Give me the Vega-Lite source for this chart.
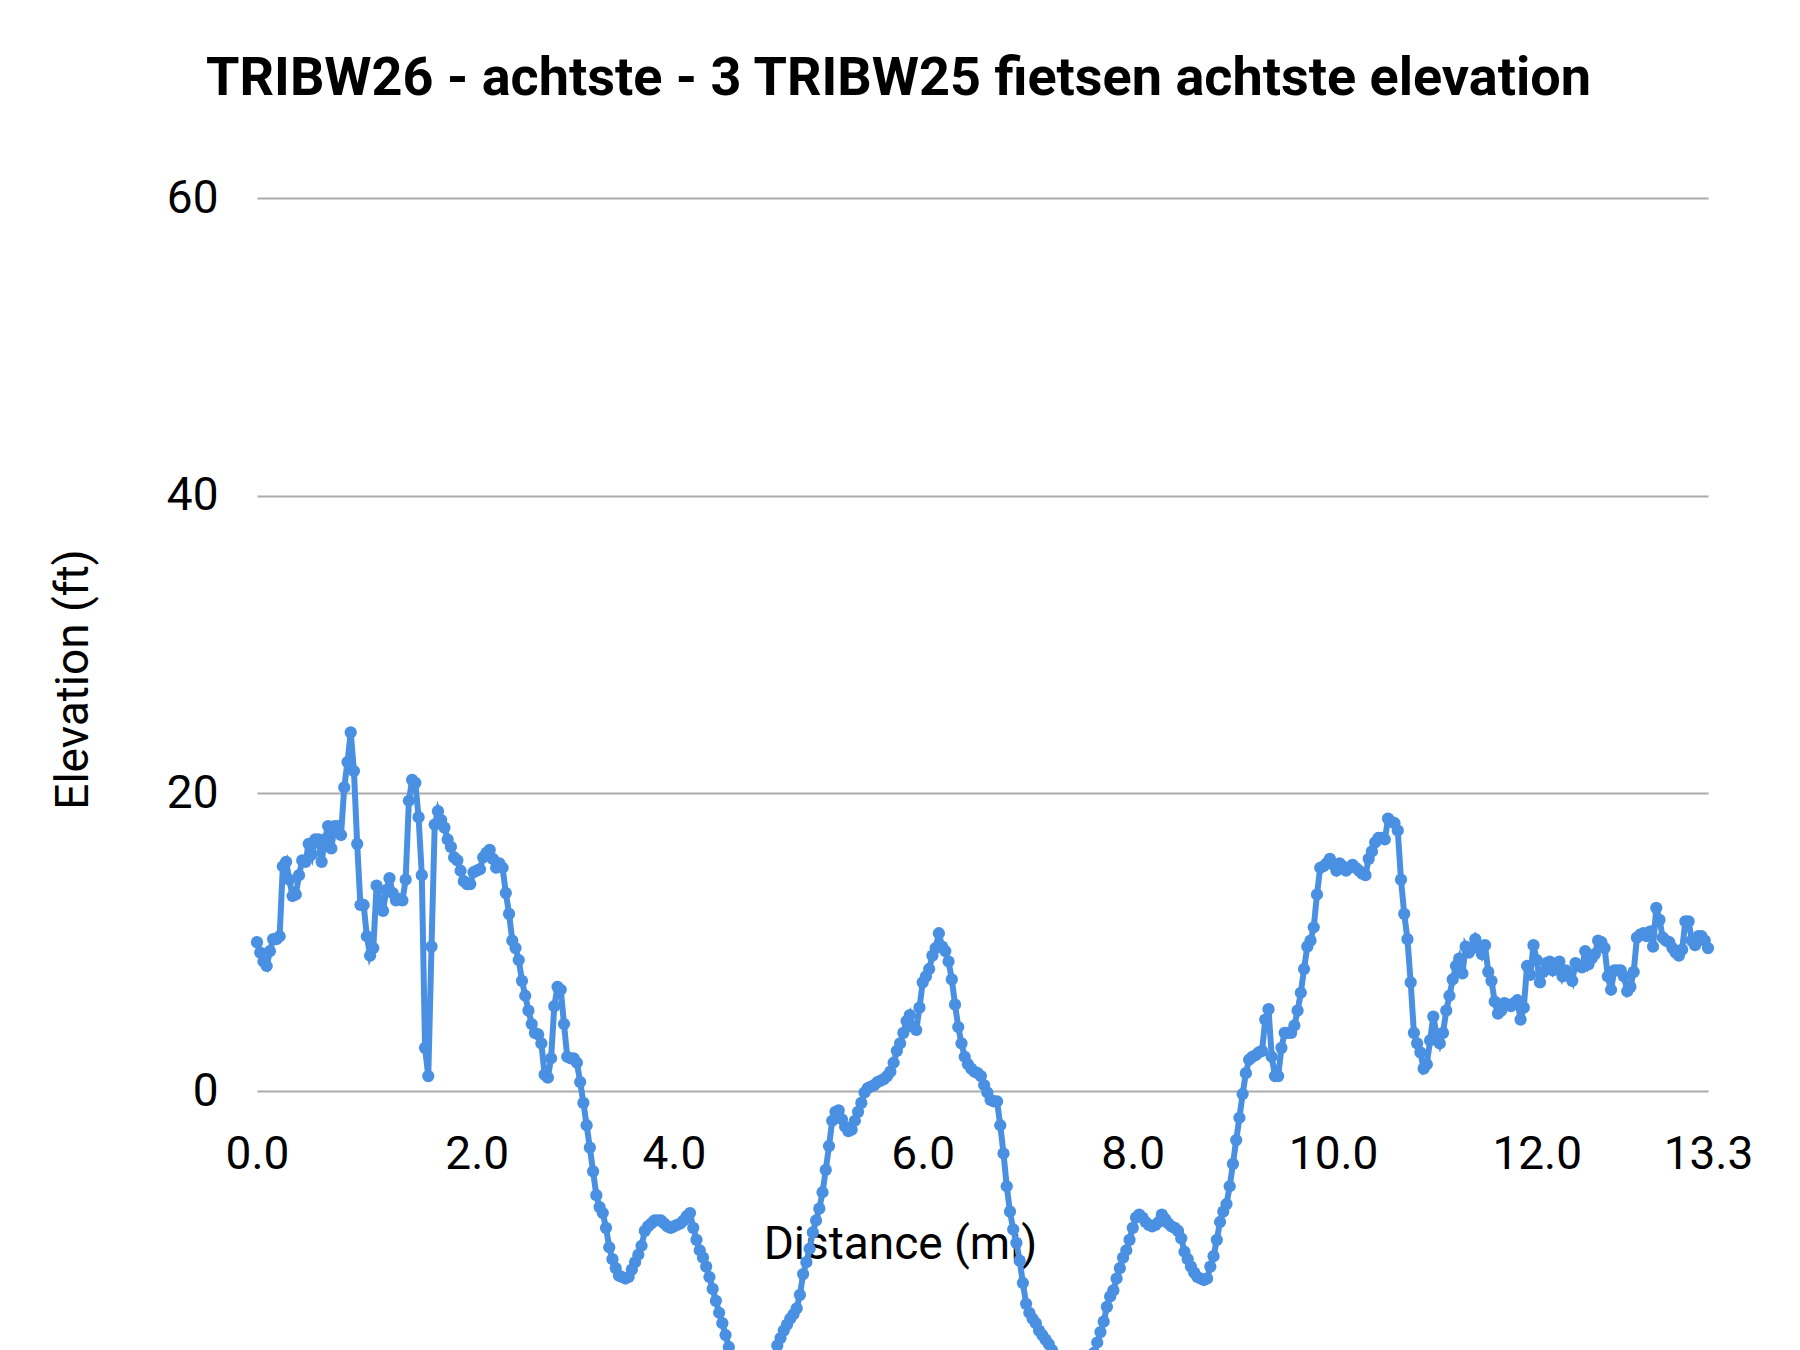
{
  "$schema": "https://vega.github.io/schema/vega-lite/v6.json",
  "autosize": {"type": "none"},
  "padding": {"left": 257, "top": 198, "right": 92, "bottom": 259},
  "width": 1451,
  "height": 893,
  "background": "white",
  "title": {
    "text": "TRIBW26 - achtste - 3 TRIBW25 fietsen achtste elevation",
    "font": "Roboto",
    "fontSize": 54,
    "fontWeight": "bold",
    "color": "#000000",
    "anchor": "middle",
    "frame": "group",
    "baseline": "alphabetic",
    "dx": -84,
    "offset": 26
  },
  "data": {
    "values": [
      {"i":0,"ft":10.0},{"i":1,"ft":9.3},{"i":2,"ft":8.7},{"i":3,"ft":8.4},{"i":4,"ft":9.4},
      {"i":5,"ft":10.2},{"i":6,"ft":10.2},{"i":7,"ft":10.4},{"i":8,"ft":15.1},{"i":9,"ft":15.4},
      {"i":10,"ft":14.2},{"i":11,"ft":13.1},{"i":12,"ft":13.2},{"i":13,"ft":14.5},{"i":14,"ft":15.5},
      {"i":15,"ft":15.4},{"i":16,"ft":16.6},{"i":17,"ft":15.9},{"i":18,"ft":16.9},{"i":19,"ft":16.9},
      {"i":20,"ft":15.4},{"i":21,"ft":16.9},{"i":22,"ft":17.8},{"i":23,"ft":16.3},{"i":24,"ft":17.8},
      {"i":25,"ft":17.8},{"i":26,"ft":17.2},{"i":27,"ft":20.4},{"i":28,"ft":22.1},{"i":29,"ft":24.1},
      {"i":30,"ft":21.5},{"i":31,"ft":16.6},{"i":32,"ft":12.5},{"i":33,"ft":12.5},{"i":34,"ft":10.4},
      {"i":35,"ft":9.1},{"i":36,"ft":9.6},{"i":37,"ft":13.8},{"i":38,"ft":12.8},{"i":39,"ft":12.1},
      {"i":40,"ft":13.5},{"i":41,"ft":14.3},{"i":42,"ft":13.3},{"i":43,"ft":12.8},{"i":44,"ft":12.9},
      {"i":45,"ft":12.8},{"i":46,"ft":14.2},{"i":47,"ft":19.5},{"i":48,"ft":20.9},{"i":49,"ft":20.7},
      {"i":50,"ft":18.4},{"i":51,"ft":14.5},{"i":52,"ft":2.9},{"i":53,"ft":1.0},{"i":54,"ft":9.7},
      {"i":55,"ft":17.9},{"i":56,"ft":18.8},{"i":57,"ft":18.2},{"i":58,"ft":17.7},{"i":59,"ft":16.9},
      {"i":60,"ft":16.4},{"i":61,"ft":15.7},{"i":62,"ft":15.5},{"i":63,"ft":14.8},{"i":64,"ft":14.1},
      {"i":65,"ft":13.9},{"i":66,"ft":13.9},{"i":67,"ft":14.7},{"i":68,"ft":14.8},{"i":69,"ft":14.9},
      {"i":70,"ft":15.7},{"i":71,"ft":16.0},{"i":72,"ft":16.2},{"i":73,"ft":15.6},{"i":74,"ft":15.0},
      {"i":75,"ft":15.3},{"i":76,"ft":15.0},{"i":77,"ft":13.3},{"i":78,"ft":11.9},{"i":79,"ft":10.1},
      {"i":80,"ft":9.6},{"i":81,"ft":8.8},{"i":82,"ft":7.4},{"i":83,"ft":6.4},{"i":84,"ft":5.4},
      {"i":85,"ft":4.5},{"i":86,"ft":3.9},{"i":87,"ft":3.8},{"i":88,"ft":3.2},{"i":89,"ft":1.1},
      {"i":90,"ft":0.9},{"i":91,"ft":2.2},{"i":92,"ft":5.7},{"i":93,"ft":7.0},{"i":94,"ft":6.8},
      {"i":95,"ft":4.5},{"i":96,"ft":2.3},{"i":97,"ft":2.2},{"i":98,"ft":2.2},{"i":99,"ft":1.9},
      {"i":100,"ft":0.6},{"i":101,"ft":-0.8},{"i":102,"ft":-2.3},{"i":103,"ft":-3.8},{"i":104,"ft":-5.4},
      {"i":105,"ft":-7.0},{"i":106,"ft":-7.8},{"i":107,"ft":-8.2},{"i":108,"ft":-9.2},{"i":109,"ft":-10.5},
      {"i":110,"ft":-11.3},{"i":111,"ft":-11.9},{"i":112,"ft":-12.4},{"i":113,"ft":-12.5},{"i":114,"ft":-12.6},
      {"i":115,"ft":-12.5},{"i":116,"ft":-12.0},{"i":117,"ft":-11.5},{"i":118,"ft":-11.0},{"i":119,"ft":-10.4},
      {"i":120,"ft":-9.4},{"i":121,"ft":-9.1},{"i":122,"ft":-8.9},{"i":123,"ft":-8.7},{"i":124,"ft":-8.7},
      {"i":125,"ft":-8.7},{"i":126,"ft":-8.9},{"i":127,"ft":-9.1},{"i":128,"ft":-9.2},{"i":129,"ft":-9.1},
      {"i":130,"ft":-9.0},{"i":131,"ft":-8.9},{"i":132,"ft":-8.7},{"i":133,"ft":-8.4},{"i":134,"ft":-8.2},
      {"i":135,"ft":-9.2},{"i":136,"ft":-10.0},{"i":137,"ft":-10.7},{"i":138,"ft":-11.2},{"i":139,"ft":-11.8},
      {"i":140,"ft":-12.5},{"i":141,"ft":-13.3},{"i":142,"ft":-14.1},{"i":143,"ft":-14.9},{"i":144,"ft":-15.6},
      {"i":145,"ft":-16.4},{"i":146,"ft":-17.2},{"i":147,"ft":-18.0},{"i":148,"ft":-18.7},{"i":149,"ft":-19.3},
      {"i":150,"ft":-19.9},{"i":151,"ft":-20.4},{"i":152,"ft":-20.8},{"i":153,"ft":-21.1},{"i":154,"ft":-21.2},
      {"i":155,"ft":-21.1},{"i":156,"ft":-20.8},{"i":157,"ft":-20.3},{"i":158,"ft":-19.6},{"i":159,"ft":-18.9},
      {"i":160,"ft":-18.0},{"i":161,"ft":-17.1},{"i":162,"ft":-16.6},{"i":163,"ft":-16.1},{"i":164,"ft":-15.7},
      {"i":165,"ft":-15.3},{"i":166,"ft":-15.0},{"i":167,"ft":-14.6},{"i":168,"ft":-13.7},{"i":169,"ft":-12.3},
      {"i":170,"ft":-11.5},{"i":171,"ft":-10.6},{"i":172,"ft":-9.5},{"i":173,"ft":-8.7},{"i":174,"ft":-7.9},
      {"i":175,"ft":-6.8},{"i":176,"ft":-5.3},{"i":177,"ft":-3.7},{"i":178,"ft":-2.0},{"i":179,"ft":-1.4},
      {"i":180,"ft":-1.3},{"i":181,"ft":-1.9},{"i":182,"ft":-2.4},{"i":183,"ft":-2.7},{"i":184,"ft":-2.6},
      {"i":185,"ft":-2.0},{"i":186,"ft":-1.4},{"i":187,"ft":-0.8},{"i":188,"ft":-0.1},{"i":189,"ft":0.2},
      {"i":190,"ft":0.3},{"i":191,"ft":0.4},{"i":192,"ft":0.6},{"i":193,"ft":0.7},{"i":194,"ft":0.8},
      {"i":195,"ft":1.0},{"i":196,"ft":1.3},{"i":197,"ft":1.9},{"i":198,"ft":2.7},{"i":199,"ft":3.2},
      {"i":200,"ft":3.9},{"i":201,"ft":4.7},{"i":202,"ft":5.1},{"i":203,"ft":4.3},{"i":204,"ft":4.1},
      {"i":205,"ft":5.6},{"i":206,"ft":7.3},{"i":207,"ft":7.7},{"i":208,"ft":8.2},{"i":209,"ft":9.1},
      {"i":210,"ft":9.6},{"i":211,"ft":10.6},{"i":212,"ft":9.7},{"i":213,"ft":9.4},{"i":214,"ft":8.7},
      {"i":215,"ft":7.5},{"i":216,"ft":5.8},{"i":217,"ft":4.3},{"i":218,"ft":3.2},{"i":219,"ft":2.3},
      {"i":220,"ft":1.8},{"i":221,"ft":1.5},{"i":222,"ft":1.3},{"i":223,"ft":1.2},{"i":224,"ft":1.0},
      {"i":225,"ft":0.4},{"i":226,"ft":-0.1},{"i":227,"ft":-0.6},{"i":228,"ft":-0.7},{"i":229,"ft":-0.7},
      {"i":230,"ft":-2.3},{"i":231,"ft":-4.2},{"i":232,"ft":-6.4},{"i":233,"ft":-8.1},{"i":234,"ft":-9.3},
      {"i":235,"ft":-10.2},{"i":236,"ft":-11.4},{"i":237,"ft":-12.9},{"i":238,"ft":-14.3},{"i":239,"ft":-14.9},
      {"i":240,"ft":-15.3},{"i":241,"ft":-15.6},{"i":242,"ft":-16.1},{"i":243,"ft":-16.4},{"i":244,"ft":-16.7},
      {"i":245,"ft":-17.0},{"i":246,"ft":-17.4},{"i":247,"ft":-17.9},{"i":248,"ft":-18.4},{"i":249,"ft":-18.8},
      {"i":250,"ft":-19.1},{"i":251,"ft":-19.4},{"i":252,"ft":-19.6},{"i":253,"ft":-19.7},{"i":254,"ft":-19.6},
      {"i":255,"ft":-19.4},{"i":256,"ft":-19.0},{"i":257,"ft":-18.5},{"i":258,"ft":-18.0},{"i":259,"ft":-17.6},
      {"i":260,"ft":-16.9},{"i":261,"ft":-16.2},{"i":262,"ft":-15.5},{"i":263,"ft":-14.5},{"i":264,"ft":-13.8},
      {"i":265,"ft":-13.4},{"i":266,"ft":-12.6},{"i":267,"ft":-11.9},{"i":268,"ft":-11.2},{"i":269,"ft":-10.7},
      {"i":270,"ft":-10.0},{"i":271,"ft":-9.2},{"i":272,"ft":-8.5},{"i":273,"ft":-8.3},{"i":274,"ft":-8.5},
      {"i":275,"ft":-8.8},{"i":276,"ft":-9.0},{"i":277,"ft":-9.1},{"i":278,"ft":-9.0},{"i":279,"ft":-8.8},
      {"i":280,"ft":-8.3},{"i":281,"ft":-8.6},{"i":282,"ft":-8.9},{"i":283,"ft":-9.1},{"i":284,"ft":-9.2},
      {"i":285,"ft":-9.4},{"i":286,"ft":-9.9},{"i":287,"ft":-10.8},{"i":288,"ft":-11.3},{"i":289,"ft":-11.8},
      {"i":290,"ft":-12.2},{"i":291,"ft":-12.5},{"i":292,"ft":-12.6},{"i":293,"ft":-12.7},{"i":294,"ft":-12.6},
      {"i":295,"ft":-11.8},{"i":296,"ft":-11.1},{"i":297,"ft":-10.0},{"i":298,"ft":-8.8},{"i":299,"ft":-8.1},
      {"i":300,"ft":-7.6},{"i":301,"ft":-6.4},{"i":302,"ft":-4.9},{"i":303,"ft":-3.3},{"i":304,"ft":-1.8},
      {"i":305,"ft":-0.2},{"i":306,"ft":1.2},{"i":307,"ft":2.1},{"i":308,"ft":2.3},{"i":309,"ft":2.4},
      {"i":310,"ft":2.6},{"i":311,"ft":2.7},{"i":312,"ft":4.8},{"i":313,"ft":5.5},{"i":314,"ft":2.3},
      {"i":315,"ft":1.0},{"i":316,"ft":1.0},{"i":317,"ft":2.9},{"i":318,"ft":3.9},{"i":319,"ft":3.9},
      {"i":320,"ft":3.9},{"i":321,"ft":4.4},{"i":322,"ft":5.4},{"i":323,"ft":6.6},{"i":324,"ft":8.2},
      {"i":325,"ft":9.7},{"i":326,"ft":10.1},{"i":327,"ft":11.0},{"i":328,"ft":13.2},{"i":329,"ft":15.0},
      {"i":330,"ft":15.1},{"i":331,"ft":15.3},{"i":332,"ft":15.6},{"i":333,"ft":15.2},{"i":334,"ft":14.8},
      {"i":335,"ft":15.3},{"i":336,"ft":15.1},{"i":337,"ft":14.8},{"i":338,"ft":15.0},{"i":339,"ft":15.2},
      {"i":340,"ft":15.0},{"i":341,"ft":14.8},{"i":342,"ft":14.6},{"i":343,"ft":14.5},{"i":344,"ft":15.6},
      {"i":345,"ft":16.1},{"i":346,"ft":16.7},{"i":347,"ft":17.0},{"i":348,"ft":17.0},{"i":349,"ft":16.9},
      {"i":350,"ft":18.3},{"i":351,"ft":18.1},{"i":352,"ft":18.0},{"i":353,"ft":17.5},{"i":354,"ft":14.2},
      {"i":355,"ft":11.9},{"i":356,"ft":10.2},{"i":357,"ft":7.3},{"i":358,"ft":3.9},{"i":359,"ft":3.2},
      {"i":360,"ft":2.6},{"i":361,"ft":1.5},{"i":362,"ft":1.8},{"i":363,"ft":3.4},{"i":364,"ft":5.0},
      {"i":365,"ft":3.8},{"i":366,"ft":3.2},{"i":367,"ft":3.9},{"i":368,"ft":5.4},{"i":369,"ft":6.4},
      {"i":370,"ft":7.5},{"i":371,"ft":8.4},{"i":372,"ft":8.9},{"i":373,"ft":7.9},{"i":374,"ft":9.7},
      {"i":375,"ft":9.3},{"i":376,"ft":9.6},{"i":377,"ft":10.2},{"i":378,"ft":9.7},{"i":379,"ft":9.2},
      {"i":380,"ft":9.8},{"i":381,"ft":8.0},{"i":382,"ft":7.4},{"i":383,"ft":6.0},{"i":384,"ft":5.2},
      {"i":385,"ft":5.4},{"i":386,"ft":5.9},{"i":387,"ft":5.8},{"i":388,"ft":5.7},{"i":389,"ft":5.9},
      {"i":390,"ft":6.1},{"i":391,"ft":4.8},{"i":392,"ft":5.6},{"i":393,"ft":8.4},{"i":394,"ft":7.8},
      {"i":395,"ft":9.8},{"i":396,"ft":8.8},{"i":397,"ft":7.3},{"i":398,"ft":8.0},{"i":399,"ft":8.6},
      {"i":400,"ft":8.7},{"i":401,"ft":8.1},{"i":402,"ft":8.5},{"i":403,"ft":8.7},{"i":404,"ft":7.7},
      {"i":405,"ft":8.1},{"i":406,"ft":7.8},{"i":407,"ft":7.4},{"i":408,"ft":8.6},{"i":409,"ft":8.4},
      {"i":410,"ft":8.3},{"i":411,"ft":9.4},{"i":412,"ft":8.5},{"i":413,"ft":8.9},{"i":414,"ft":9.2},
      {"i":415,"ft":10.1},{"i":416,"ft":10.0},{"i":417,"ft":9.6},{"i":418,"ft":7.7},{"i":419,"ft":6.8},
      {"i":420,"ft":8.1},{"i":421,"ft":8.1},{"i":422,"ft":8.1},{"i":423,"ft":7.7},{"i":424,"ft":6.7},
      {"i":425,"ft":7.0},{"i":426,"ft":8.0},{"i":427,"ft":10.3},{"i":428,"ft":10.5},{"i":429,"ft":10.6},
      {"i":430,"ft":10.4},{"i":431,"ft":10.7},{"i":432,"ft":9.7},{"i":433,"ft":12.3},{"i":434,"ft":11.5},
      {"i":435,"ft":10.3},{"i":436,"ft":10.1},{"i":437,"ft":10.0},{"i":438,"ft":9.6},{"i":439,"ft":9.3},
      {"i":440,"ft":9.1},{"i":441,"ft":9.5},{"i":442,"ft":11.4},{"i":443,"ft":11.4},{"i":444,"ft":10.1},
      {"i":445,"ft":9.8},{"i":446,"ft":10.4},{"i":447,"ft":10.4},{"i":448,"ft":10.1},{"i":449,"ft":9.6}
    ]
  },
  "encoding": {
    "x": {
      "field": "i",
      "type": "quantitative",
      "scale": {"domain": [0, 449], "nice": false, "zero": false},
      "axis": {
        "title": "Distance (mi)",
        "values": [0, 68, 129, 206, 271, 333, 396, 449],
        "labelExpr": "datum.value == 0 ? '0.0' : datum.value == 68 ? '2.0' : datum.value == 129 ? '4.0' : datum.value == 206 ? '6.0' : datum.value == 271 ? '8.0' : datum.value == 333 ? '10.0' : datum.value == 396 ? '12.0' : '13.3'",
        "grid": false,
        "domain": false,
        "ticks": false,
        "tickSize": 0,
        "labelPadding": 41,
        "labelFlush": false,
        "labelOverlap": false,
        "labelFont": "Roboto",
        "labelFontSize": 46,
        "labelColor": "#000000",
        "titleFont": "Roboto",
        "titleFontSize": 46,
        "titleFontWeight": "normal",
        "titleColor": "#000000",
        "titleX": 643,
        "titleY": 167,
        "titleAlign": "center",
        "titleAnchor": null,
        "titleBaseline": "alphabetic"
      }
    },
    "y": {
      "field": "ft",
      "type": "quantitative",
      "scale": {"domain": [0, 60], "nice": false, "zero": false},
      "axis": {
        "title": "Elevation (ft)",
        "values": [0, 20, 40, 60],
        "grid": true,
        "gridColor": "#ababab",
        "gridWidth": 2,
        "domain": false,
        "ticks": false,
        "tickSize": 0,
        "labelPadding": 39,
        "labelFont": "Roboto",
        "labelFontSize": 46,
        "labelColor": "#000000",
        "titleFont": "Roboto",
        "titleFontSize": 46,
        "titleFontWeight": "normal",
        "titleColor": "#000000",
        "titleAngle": 270,
        "titleX": -170,
        "titleY": 481,
        "titleAlign": "center",
        "titleBaseline": "alphabetic"
      }
    }
  },
  "layer": [
    {
      "mark": {"type": "line", "color": "#4a90e2", "strokeWidth": 6, "clip": false}
    },
    {
      "mark": {"type": "point", "filled": true, "opacity": 1, "color": "#4a90e2", "size": 150, "clip": false}
    }
  ],
  "config": {
    "view": {"stroke": null},
    "font": "Roboto"
  }
}
